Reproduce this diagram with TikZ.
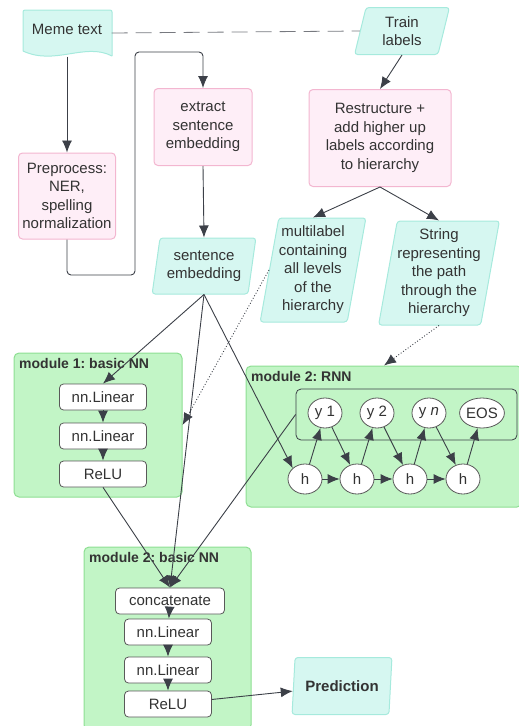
\documentclass[tikz,border=0pt]{standalone}
\usepackage{fontspec}
\setmainfont{Liberation Sans}
\usetikzlibrary{shapes,arrows.meta}
\definecolor{tealfill}{HTML}{D6F7F1}
\definecolor{tealline}{HTML}{A6EADD}
\definecolor{pinkfill}{HTML}{FEEEF7}
\definecolor{pinkline}{HTML}{F3B6D0}
\definecolor{greenfill}{HTML}{C2F5C6}
\definecolor{greenline}{HTML}{8DDF92}
\definecolor{inkline}{HTML}{3C4048}
\definecolor{inktext}{HTML}{333333}
\frenchspacing
\begin{document}
\begin{tikzpicture}[x=1pt,y=-1pt,
  every node/.style={text=inktext, font=\fontsize{15}{18.5}\selectfont},
  link/.style={draw=inkline, line width=0.9pt, -{Latex[length=12pt,width=10pt]}},
  procbox/.style={draw=pinkline, fill=pinkfill, line width=1pt, rounded corners=4pt, align=center, inner sep=0pt},
  databox/.style={trapezium, trapezium left angle=78, trapezium right angle=102, trapezium stretches=true, draw=tealline, fill=tealfill, line width=1pt, rounded corners=3pt, align=center, inner sep=0pt},
  modbox/.style={draw=greenline, fill=greenfill, line width=1pt, rounded corners=5pt, inner sep=0pt},
  modtitle/.style={anchor=west, inner sep=0pt, font=\fontsize{14}{17}\bfseries},
  layerbox/.style={draw=gray!70!black, fill=white, line width=0.8pt, rounded corners=4pt, minimum width=87, minimum height=26, inner sep=0pt},
  unit/.style={ellipse, draw=gray!70!black, fill=white, line width=0.8pt, minimum width=34, minimum height=30, inner sep=0pt}]
\useasboundingbox (0,0) rectangle (519,726);

\fill[tealfill] (23,10) -- (112,10) -- (112,56) .. controls (85,42) and (55,66) .. (23,51) -- cycle;
\draw[tealline, line width=1pt, rounded corners=2pt] (23,51) -- (23,10) -- (112,10) -- (112,56);
\draw[tealline, line width=1pt] (112,56) .. controls (85,42) and (55,66) .. (23,51);
\node[minimum width=89, minimum height=47, inner sep=0pt] (meme) at (67,33) {};
\node at (67,29) {Meme text};

\node[databox, minimum width=95, minimum height=47] (train) at (402,31) {Train\\labels};
\node[procbox, minimum width=97, minimum height=86] (prep) at (67,196) {Preprocess:\\NER,\\spelling\\normalization};
\node[procbox, minimum width=98, minimum height=77] (extract) at (203,127) {extract\\sentence\\embedding};
\node[procbox, minimum width=142, minimum height=97] (restr) at (380,138) {Restructure +\\add higher up\\labels according\\to hierarchy};
\node[databox, minimum width=104, minimum height=56] (sent) at (204,266) {sentence\\embedding};
\node[databox, minimum width=104, minimum height=104] (multi) at (313,270) {multilabel\\containing\\all levels\\of the\\hierarchy};
\node[databox, minimum width=120, minimum height=104] (string) at (439,273) {String\\representing\\the path\\through the\\hierarchy};

\node[modbox, minimum width=168, minimum height=144] (mod1) at (98,425) {};
\node[modtitle] at (19,363) {module 1: basic NN};
\node[layerbox] (l1a) at (103,397) {nn.Linear};
\node[layerbox] (l1b) at (103,436) {nn.Linear};
\node[layerbox] (l1c) at (103,474) {ReLU};

\node[modbox, minimum width=276, minimum height=141] (rnn) at (384,436.5) {};
\node[modtitle] at (251,376) {module 2: RNN};
\node[draw=inkline, line width=0.8pt, rounded corners=5pt, minimum width=221, minimum height=51, inner sep=0pt] (seq) at (406.5,414.5) {};
\node[unit] (y1) at (325,413) {y 1};
\node[unit] (y2) at (377,413) {y 2};
\node[unit] (yn) at (429,413) {y \textit{n}};
\node[unit] (eos) at (482,413) {EOS};
\node[unit] (h1) at (305,479) {h};
\node[unit] (h2) at (357,479) {h};
\node[unit] (h3) at (410,479) {h};
\node[unit] (h4) at (463,479) {h};

\node[modbox, minimum width=167, minimum height=183] (mod2) at (167.5,638.5) {};
\node[modtitle] at (89,557) {module 2: basic NN};
\node[layerbox, minimum width=109] (concat) at (170,601) {concatenate};
\node[layerbox] (l2a) at (168,632) {nn.Linear};
\node[layerbox] (l2b) at (168,670) {nn.Linear};
\node[layerbox] (l2c) at (168,704) {ReLU};
\node[databox, minimum width=100, minimum height=57, font=\fontsize{15}{18.5}\bfseries] (pred) at (342,686) {Prediction};

\coordinate (c1) at (135,275);
\coordinate (c2) at (135,52);

\draw[inkline!70, line width=0.8pt, dash pattern=on 16pt off 8pt] (meme.east |- 0,33) -- (train.west);
\draw[link] (meme.south) -- (prep.north);
\draw[link, rounded corners=4pt] (prep.south) |- (c1) -- (c2) -| (extract.north);
\draw[link] (extract.south) -- (sent.north);
\draw[link] (train.south) -- (restr.north);
\draw[link] (restr.south) -- (multi.north);
\draw[link] (restr.south) -- (string.north);
\draw[link] (sent.south) -- (l1a.north);
\draw[link] (sent.south) -- (concat.north);
\draw[link] (sent.south) -- (h1.north west);
\draw[link, dotted] (multi.west) -- (mod1.east);
\draw[link, dotted] (string.south) -- (rnn.north);
\draw[link] (l1a) -- (l1b);
\draw[link] (l1b) -- (l1c);
\draw[link] (l1c.south) -- (concat.north);
\draw[link] (seq.west) -- (concat.north);
\draw[link] (h1) -- (y1);
\draw[link] (h2) -- (y2);
\draw[link] (h3) -- (yn);
\draw[link] (h4) -- (eos);
\draw[link] (y1) -- (h2);
\draw[link] (y2) -- (h3);
\draw[link] (yn) -- (h4);
\draw[link] (h1) -- (h2);
\draw[link] (h2) -- (h3);
\draw[link] (h3) -- (h4);
\draw[link] (concat) -- (l2a);
\draw[link] (l2a) -- (l2b);
\draw[link] (l2b) -- (l2c);
\draw[link] (l2c) -- (pred);
\end{tikzpicture}
\end{document}
